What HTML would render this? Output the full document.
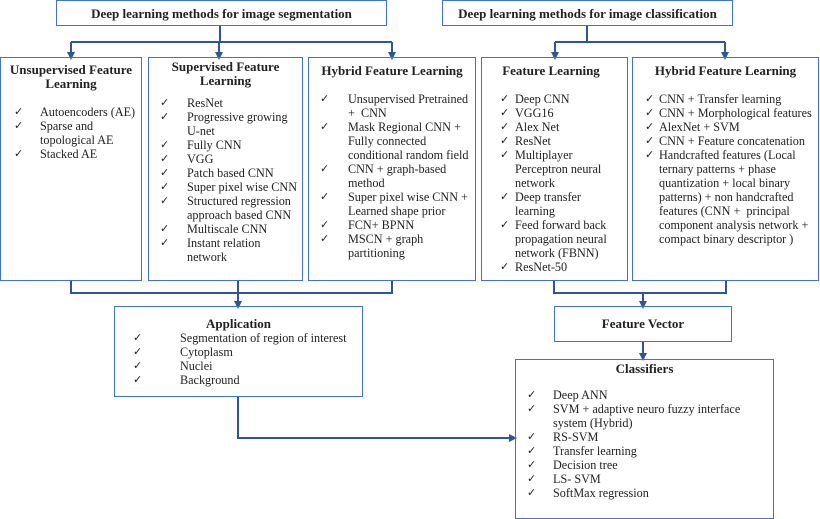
<!DOCTYPE html>
<html><head><meta charset="utf-8"><style>
body{margin:0;width:820px;height:518px;background:#fff;position:relative;overflow:hidden;font-family:"Liberation Serif",serif;color:#222;font-size:13px}
.b{position:absolute;border:1.5px solid #4472c4;box-sizing:border-box}
.t{position:absolute;font-weight:bold;text-align:center;line-height:14px;font-size:13px}
.l{position:absolute;line-height:14px;font-size:12.2px;margin:0;padding:0;list-style:none}
.l li{position:relative}
.l li:before{content:"\2713";position:absolute;font-size:11px}
svg{position:absolute;left:0;top:0}
</style></head><body>
<svg width="820" height="518">
<defs><marker id="a" markerWidth="8" markerHeight="8" refX="4" refY="4" orient="auto" markerUnits="userSpaceOnUse"><path d="M0,0 L8,4 L0,8z" fill="#2f5597"/></marker></defs>
<g stroke="#2f5597" stroke-width="2" fill="none">
<path d="M220,25 V42 M71,42 H392"/>
<path d="M71,42 V56" marker-end="url(#a)"/><path d="M219,42 V56" marker-end="url(#a)"/><path d="M392,42 V56" marker-end="url(#a)"/>
<path d="M587,25 V42 M555,42 H725"/>
<path d="M555,42 V56" marker-end="url(#a)"/><path d="M725,42 V56" marker-end="url(#a)"/>
<path d="M71,280 V293 H392 V280 M238,280 V293"/>
<path d="M238,293 V305" marker-end="url(#a)"/>
<path d="M554,280 V293 H726 V280"/>
<path d="M643,293 V305" marker-end="url(#a)"/>
<path d="M643,341 V357" marker-end="url(#a)"/>
<path d="M238,396 V438 H513" marker-end="url(#a)"/>
</g></svg>

<div class="b" style="left:56px;top:0;width:331px;height:26px"></div>
<div class="t" style="left:56px;top:7px;width:331px">Deep learning methods for image segmentation</div>
<div class="b" style="left:442px;top:0;width:291px;height:26px"></div>
<div class="t" style="left:442px;top:7px;width:291px">Deep learning methods for image classification</div>

<div class="b" style="left:0;top:57px;width:142px;height:224px"></div>
<div class="t" style="left:0;top:63px;width:142px">Unsupervised Feature<br>Learning</div>
<ul class="l" style="left:40px;top:105px;width:102px">
<li>Autoencoders (AE)</li><li>Sparse and topological AE</li><li>Stacked AE</li></ul>

<div class="b" style="left:148px;top:57px;width:155px;height:224px"></div>
<div class="t" style="left:148px;top:60px;width:155px">Supervised Feature<br>Learning</div>
<ul class="l" style="left:187px;top:96px;width:115px">
<li>ResNet</li><li>Progressive growing U-net</li><li>Fully CNN</li><li>VGG</li><li>Patch based CNN</li><li>Super pixel wise CNN</li><li>Structured regression approach based CNN</li><li>Multiscale CNN</li><li>Instant relation network</li></ul>

<div class="b" style="left:308px;top:57px;width:168px;height:224px"></div>
<div class="t" style="left:308px;top:64px;width:168px">Hybrid Feature Learning</div>
<ul class="l" style="left:348px;top:92px;width:124px">
<li>Unsupervised Pretrained + &nbsp;CNN</li><li>Mask Regional CNN + Fully connected conditional random field</li><li>CNN + graph-based method</li><li>Super pixel wise CNN + Learned shape prior</li><li>FCN+ BPNN</li><li>MSCN + graph partitioning</li></ul>

<div class="b" style="left:481px;top:57px;width:147px;height:224px"></div>
<div class="t" style="left:481px;top:64px;width:140px">Feature Learning</div>
<ul class="l" style="left:515px;top:92px;width:100px">
<li>Deep CNN</li><li>VGG16</li><li>Alex Net</li><li>ResNet</li><li>Multiplayer Perceptron neural network</li><li>Deep transfer learning</li><li>Feed forward back propagation neural network (FBNN)</li><li>ResNet-50</li></ul>

<div class="b" style="left:632px;top:57px;width:187px;height:224px"></div>
<div class="t" style="left:632px;top:64px;width:187px">Hybrid Feature Learning</div>
<ul class="l" style="left:659px;top:92px;width:158px">
<li>CNN + Transfer learning</li><li>CNN + Morphological features</li><li>AlexNet + SVM</li><li>CNN + Feature concatenation</li><li>Handcrafted features (Local ternary patterns + phase quantization + local binary patterns) + non handcrafted features (CNN + &nbsp;principal component analysis network + compact binary descriptor )</li></ul>

<div class="b" style="left:114px;top:306px;width:249px;height:91px"></div>
<div class="t" style="left:114px;top:317px;width:249px">Application</div>
<ul class="l" style="left:180px;top:331px;width:180px">
<li>Segmentation of region of interest</li><li>Cytoplasm</li><li>Nuclei</li><li>Background</li></ul>

<div class="b" style="left:554px;top:306px;width:178px;height:36px"></div>
<div class="t" style="left:554px;top:317px;width:178px">Feature Vector</div>

<div class="b" style="left:515px;top:359px;width:259px;height:160px"></div>
<div class="t" style="left:515px;top:362px;width:259px">Classifiers</div>
<ul class="l" style="left:553px;top:388px;width:215px">
<li>Deep ANN</li><li>SVM + adaptive neuro fuzzy interface system (Hybrid)</li><li>RS-SVM</li><li>Transfer learning</li><li>Decision tree</li><li>LS- SVM</li><li>SoftMax regression</li></ul>

<style>
.l[style*="left:40px"] li:before{left:-26px}
.l[style*="left:187px"] li:before{left:-27px}
.l[style*="left:348px"] li:before{left:-28px}
.l[style*="left:515px"] li:before{left:-15px}
.l[style*="left:659px"] li:before{left:-14px}
.l[style*="left:180px"] li:before{left:-47px}
.l[style*="left:553px"] li:before{left:-26px}
</style>
</body></html>
